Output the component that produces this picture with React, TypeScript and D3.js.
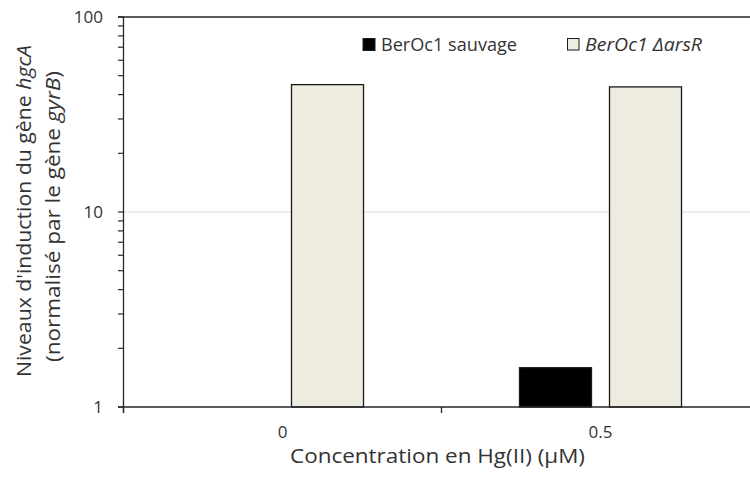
import React from "react";
import * as d3 from "d3";

const categories = ["0", "0.5"];
const seriesNames = ["BerOc1 sauvage", "BerOc1 ΔarsR"];
const wildType = [1, 1.59];
const mutant = [45.0, 43.8];
const yMajorTicks = [1, 10, 100];
const xTitle = "Concentration en Hg(II) (µM)";

const seriesColors = ["#000000", "#EEECE1"];
const FONT = "'Open Sans', sans-serif";
const TEXT = "#333333";

export default function App() {
  const W = 750, H = 477;
  const left = 123.5, right = 759.5, top = 17, bottom = 407;
  const x = d3.scaleBand<string>().domain(categories).range([left, right]).padding(0);
  const bw = x.bandwidth();
  const xs = d3
    .scaleBand<string>()
    .domain(seriesNames)
    .range([(78 / 318) * bw, (240 / 318) * bw])
    .paddingInner(0.2)
    .paddingOuter(0);
  const y = d3.scaleLog().domain([1, 100]).range([bottom, top]);
  const allTicks = y.ticks();
  const values = [wildType, mutant];

  return (
    <svg width={W} height={H} style={{ position: "absolute", left: 0, top: 0 }}>
      <rect x={0} y={0} width={W} height={H} fill="#fff" />
      {yMajorTicks
        .filter((t) => t !== 1 && t !== 100)
        .map((t) => (
          <line key={"g" + t} x1={left} x2={right} y1={y(t)} y2={y(t)} stroke="#d9d9d9" strokeWidth={1} />
        ))}
      {categories.map((c, i) =>
        seriesNames.map((s, j) => {
          const v = values[j][i];
          if (v <= 1) return null;
          const x0 = (x(c) as number) + (xs(s) as number);
          return (
            <rect
              key={c + s}
              x={x0}
              y={y(v)}
              width={xs.bandwidth()}
              height={y(1) - y(v)}
              fill={seriesColors[j]}
              stroke="#1a1a1a"
              strokeWidth={1.3}
            />
          );
        })
      )}
      <line x1={118} x2={W} y1={top} y2={top} stroke="#262626" strokeWidth={1.3} />
      <line x1={left} x2={left} y1={top} y2={bottom + 6} stroke="#262626" strokeWidth={1.3} />
      {allTicks.map((t) => (
        <line key={"t" + t} x1={left - 5.5} x2={left} y1={y(t)} y2={y(t)} stroke="#262626" strokeWidth={1.2} />
      ))}
      {yMajorTicks.map((t) => (
        <text
          key={"l" + t}
          x={103}
          y={y(t)}
          dy="0.36em"
          textAnchor="end"
          fontFamily={FONT}
          fontSize={17}
          fill={TEXT}
        >
          {t}
        </text>
      ))}
      <line x1={118} x2={W} y1={bottom} y2={bottom} stroke="#262626" strokeWidth={1.3} />
      {[...categories.map((c) => x(c) as number), right].map((px, i) => (
        <line key={"xt" + i} x1={px} x2={px} y1={bottom} y2={bottom + 6} stroke="#262626" strokeWidth={1.3} />
      ))}
      {categories.map((c) => (
        <text
          key={"xl" + c}
          x={(x(c) as number) + bw / 2}
          y={438}
          textAnchor="middle"
          fontFamily={FONT}
          fontSize={17}
          fill={TEXT}
        >
          {c}
        </text>
      ))}
      <text
        x={437.5}
        y={463}
        textAnchor="middle"
        fontFamily={FONT}
        fontSize={20}
        fill={TEXT}
        textLength={295}
        lengthAdjust="spacingAndGlyphs"
      >
        {xTitle}
      </text>
      <g transform={`translate(30.5, ${(top + bottom) / 2}) rotate(-90)`}>
        <text
          x={1}
          y={0}
          textAnchor="middle"
          fontFamily={FONT}
          fontSize={20}
          fill={TEXT}
          textLength={332}
          lengthAdjust="spacingAndGlyphs"
        >
          Niveaux d'induction du gène <tspan fontStyle="italic">hgcA</tspan>
        </text>
        <text
          x={-4.5}
          y={29.5}
          textAnchor="middle"
          fontFamily={FONT}
          fontSize={20}
          fill={TEXT}
          textLength={291}
          lengthAdjust="spacingAndGlyphs"
        >
          (normalisé par le gène <tspan fontStyle="italic">gyrB</tspan>)
        </text>
      </g>
      <rect x={363} y={38.5} width={12} height={12} fill={seriesColors[0]} stroke="#1a1a1a" strokeWidth={1} />
      <text
        x={381}
        y={50.5}
        fontFamily={FONT}
        fontSize={18}
        fill={TEXT}
        textLength={136}
        lengthAdjust="spacingAndGlyphs"
      >
        {seriesNames[0]}
      </text>
      <rect x={567.5} y={38.5} width={11.5} height={11.5} fill={seriesColors[1]} stroke="#1a1a1a" strokeWidth={1} />
      <text
        x={585}
        y={50.5}
        fontFamily={FONT}
        fontSize={18}
        fontStyle="italic"
        fill={TEXT}
        textLength={117}
        lengthAdjust="spacingAndGlyphs"
      >
        {seriesNames[1]}
      </text>
    </svg>
  );
}
